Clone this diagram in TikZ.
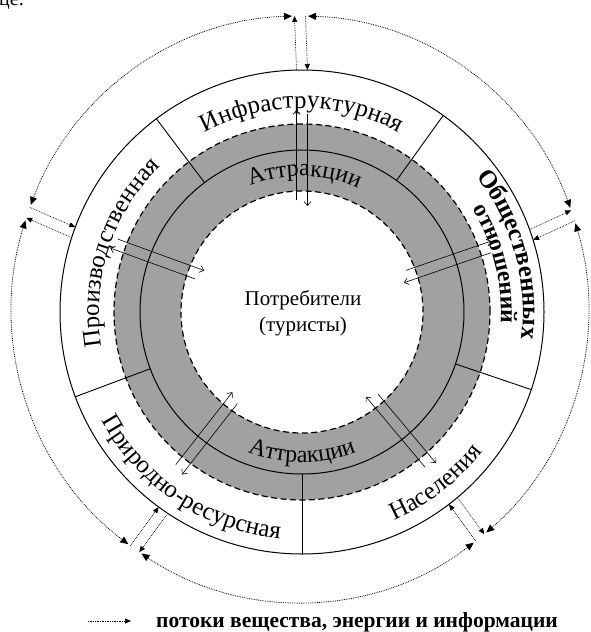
\documentclass[tikz,border=0pt]{standalone}
\usepackage{fontspec}
\setmainfont{Liberation Serif}
\usetikzlibrary{arrows.meta,decorations.text,calc}
\tikzset{
  solidring/.style={line width=1pt},
  dashring/.style={line width=1.2pt, dash pattern=on 6pt off 3.5pt},
  divider/.style={line width=0.9pt},
  outerflow/.style={line width=0.7pt, densely dotted, -{Triangle[length=6pt,width=5pt]}},
  circflow/.style={line width=0.8pt, densely dotted, {Triangle[length=8pt,width=7pt]}-{Triangle[length=8pt,width=7pt]}},
  innerflow/.style={line width=0.6pt, -{Straight Barb[length=4pt,width=7pt]}},
  legendflow/.style={line width=0.7pt, densely dotted, -{Triangle[length=6pt,width=5pt]}},
  arclabel/.style={decorate, decoration={text along path, text align=center, text={#1}}},
}
\begin{document}
\begin{tikzpicture}[x=1pt,y=1pt]
\useasboundingbox (0,0) rectangle (590,-632);
\coordinate (C) at (302,-312);
\coordinate (D) at (300,-309);
% shaded band
\fill[black!37, even odd rule] (C) circle[radius=188pt] (C) circle[radius=121pt];
\draw[dashring] (C) circle[radius=188pt];
\draw[dashring] (C) circle[radius=121pt];
\draw[solidring] (C) circle[radius=162pt];
\draw[solidring] (C) circle[radius=242pt];
% sector dividers
\foreach \a [count=\i] in {54.3,127,200.5,270,341.3}{
  \coordinate (da\i) at ($(C)+(\a:162pt)$);
  \coordinate (db\i) at ($(C)+(\a:242pt)$);
  \draw[divider] (da\i) -- (db\i);
}
% outer dotted circle made of arcs converging at junctions
\foreach \s/\e [count=\i] in {20.2/88.4, 91.6/159.2, 162.4/233.4, 236.6/307.1, 310.3/377}{
  \coordinate (as\i) at ($(D)+(\s:288pt and 293pt)$);
  \draw[circflow] (as\i) arc[start angle=\s, end angle=\e, x radius=288pt, y radius=293pt];
}
% outer double flows
\foreach \b [count=\i] in {90,160.8,235,308.7,18.6}{
  \coordinate (ri\i) at ($(C)+(\b:242pt)$);
  \coordinate (ro\i) at ($(D)+(\b:288pt and 293pt)$);
  \coordinate (oa\i) at ($(ri\i)+(\b+90:5.5pt)$);
  \coordinate (ob\i) at ($(ro\i)+(\b+90:5.5pt)$);
  \coordinate (oc\i) at ($(ro\i)+(\b-90:5.5pt)$);
  \coordinate (od\i) at ($(ri\i)+(\b-90:5.5pt)$);
  \draw[outerflow] (oa\i) -- (ob\i);
  \draw[outerflow] (oc\i) -- (od\i);
}
% inner double flows
\foreach \b [count=\i] in {90,160,19,232,310}{
  \coordinate (ia\i) at ($(C)+(\b:112pt)+(\b+90:5.5pt)$);
  \coordinate (ib\i) at ($(C)+(\b:202pt)+(\b+90:5.5pt)$);
  \coordinate (ic\i) at ($(C)+(\b:198pt)+(\b-90:5.5pt)$);
  \coordinate (id\i) at ($(C)+(\b:106pt)+(\b-90:5.5pt)$);
  \draw[innerflow] (ia\i) -- (ib\i);
  \draw[innerflow] (ic\i) -- (id\i);
}
% curved labels
\path[arclabel={|\fontsize{25}{25}\selectfont|Инфраструктурная}] ($(C)+(130:204pt)$) arc[start angle=130, end angle=50, radius=204pt];
\path[arclabel={|\fontsize{24}{24}\selectfont|Аттракции}] ($(C)+(130:136pt)$) arc[start angle=130, end angle=48, radius=136pt];
\path[arclabel={|\fontsize{25}{25}\selectfont|Производственная}] ($(C)+(200:203pt)$) arc[start angle=200, end angle=124, radius=203pt];
\path[arclabel={|\fontsize{25}{25}\selectfont|Природно-ресурсная}] ($(C)+(200:228pt)$) arc[start angle=200, end angle=273, radius=228pt];
\path[arclabel={|\fontsize{24}{24}\selectfont|Аттракции}] ($(C)+(235:150pt)$) arc[start angle=235, end angle=305, radius=150pt];
\path[arclabel={|\fontsize{25}{25}\selectfont|Населения}] ($(C)+(280:228pt)$) arc[start angle=280, end angle=336, radius=228pt];
\path[arclabel={|\bfseries\fontsize{25}{25}\selectfont|Общественных}] ($(C)+(45.5:221pt)$) arc[start angle=45.5, end angle=-14.5, radius=221pt];
\path[arclabel={|\bfseries\fontsize{23.5}{23.5}\selectfont|отношений}] ($(C)+(39:199pt)$) arc[start angle=39, end angle=-11, radius=199pt];
% centre
\node[align=center, font=\fontsize{21}{26}\selectfont] (cons) at (303,-313) {Потребители\\(туристы)};
% legend
\coordinate (la) at (88,-621);
\coordinate (lb) at (131,-621);
\draw[legendflow] (la) -- (lb);
\node[anchor=base west, font=\bfseries\fontsize{21.5}{21.5}\selectfont, inner sep=0pt] (leg) at (156,-627) {потоки вещества, энергии и информации};
% page fragment
\node[anchor=base west, font=\fontsize{20}{20}\selectfont, inner sep=0pt] (frag) at (-1,-5) {це.};
\end{tikzpicture}
\end{document}
